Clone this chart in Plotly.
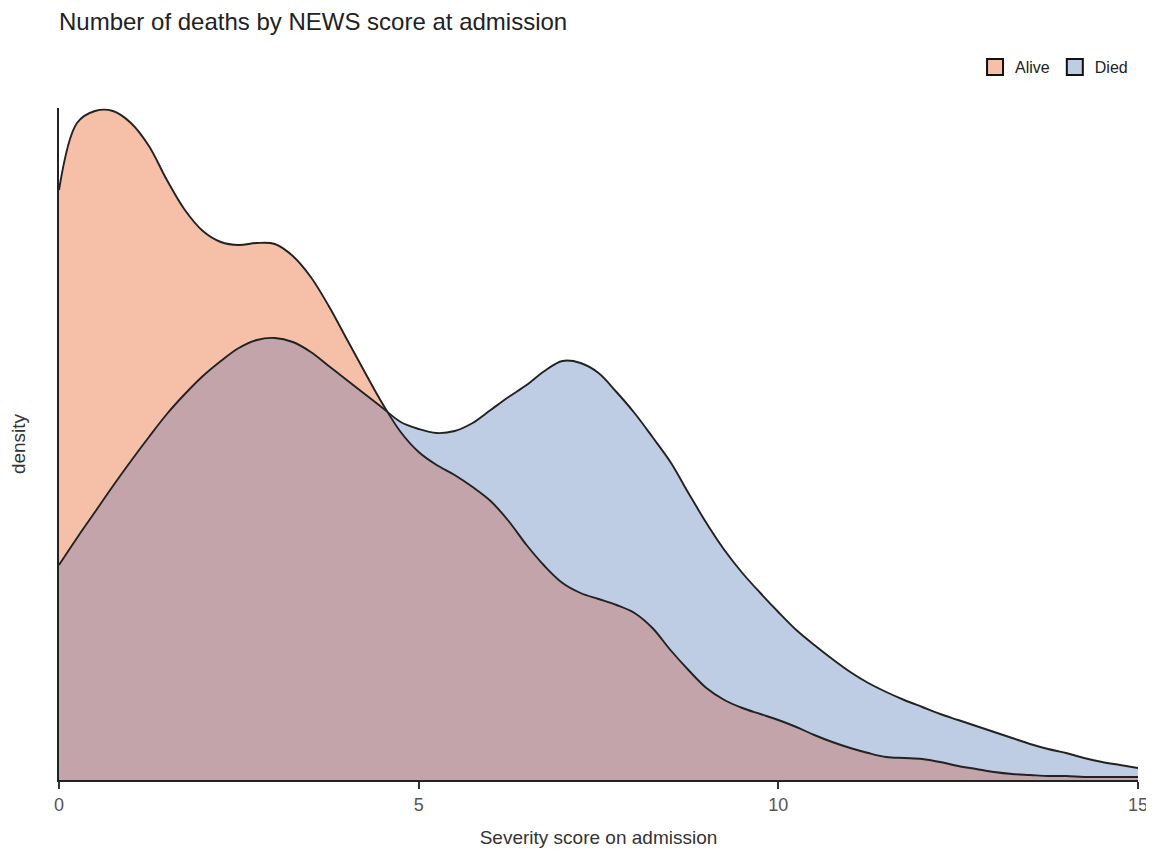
import plotly.graph_objects as go

# 入院严重程度评分 -> 密度估计（从图上读取，步长 0.25）
score = [0, 0.25, 0.5, 0.75, 1.0, 1.25, 1.5, 1.75, 2.0, 2.25, 2.5, 2.75,
         3.0, 3.25, 3.5, 3.75, 4.0, 4.25, 4.5, 4.75, 5.0, 5.25, 5.5, 5.75,
         6.0, 6.25, 6.5, 6.75, 7.0, 7.25, 7.5, 7.75, 8.0, 8.25, 8.5, 8.75,
         9.0, 9.25, 9.5, 9.75, 10.0, 10.25, 10.5, 10.75, 11.0, 11.25, 11.5,
         11.75, 12.0, 12.25, 12.5, 12.75, 13.0, 13.25, 13.5, 13.75, 14.0,
         14.25, 14.5, 14.75, 15.0]

alive = [0.177, 0.1971, 0.2007, 0.2007, 0.1971, 0.1902, 0.18, 0.171, 0.1647,
         0.1614, 0.1605, 0.1611, 0.1608, 0.1572, 0.1509, 0.1422, 0.1323,
         0.1224, 0.1128, 0.1044, 0.0984, 0.0945, 0.0915, 0.0879, 0.0837,
         0.0777, 0.0705, 0.0642, 0.0591, 0.0561, 0.0543, 0.0525, 0.0501,
         0.0456, 0.039, 0.033, 0.0276, 0.024, 0.0216, 0.0198, 0.018, 0.0159,
         0.0135, 0.0114, 0.0096, 0.0081, 0.0069, 0.0066, 0.0063, 0.0054,
         0.0042, 0.0033, 0.0024, 0.0018, 0.0015, 0.0012, 0.0012, 0.0009,
         0.0009, 0.0009, 0.0009]

died = [0.0645, 0.0726, 0.0804, 0.0882, 0.0957, 0.1029, 0.1098, 0.1158,
        0.1212, 0.1257, 0.1296, 0.132, 0.1326, 0.1314, 0.1284, 0.1242, 0.12,
        0.1158, 0.1116, 0.1074, 0.1053, 0.1041, 0.1047, 0.1071, 0.111,
        0.1149, 0.1185, 0.1227, 0.1257, 0.1251, 0.1221, 0.1164, 0.1101,
        0.1029, 0.0954, 0.0861, 0.0771, 0.069, 0.0621, 0.0561, 0.0504, 0.045,
        0.0405, 0.0363, 0.0324, 0.0291, 0.0264, 0.024, 0.0219, 0.0198, 0.018,
        0.0162, 0.0144, 0.0126, 0.0108, 0.0093, 0.0081, 0.0066, 0.0054,
        0.0045, 0.0036]

groups = ["Alive", "Died"]
fill_colors = {"Alive": "#f6bfa7", "Died": "#becce4"}
overlap_color = "#c3a4aa"
line_color = "#222222"
font_family = "Liberation Sans, Arial, Helvetica, sans-serif"
smooth = 1.0

# 两组重叠区域（取较小值）
overlap = [min(a, d) for a, d in zip(alive, died)]

fig = go.Figure()

# 填充区域
for name, vals in zip(groups, [alive, died]):
    fig.add_trace(go.Scatter(
        x=score, y=vals, mode="lines", fill="tozeroy",
        fillcolor=fill_colors[name],
        line=dict(width=0, shape="spline", smoothing=smooth),
        showlegend=False, hoverinfo="skip",
    ))

fig.add_trace(go.Scatter(
    x=score, y=overlap, mode="lines", fill="tozeroy",
    fillcolor=overlap_color,
    line=dict(width=0, shape="spline", smoothing=smooth),
    showlegend=False, hoverinfo="skip",
))

# 轮廓线放在最上层
for name, vals in zip(groups, [alive, died]):
    fig.add_trace(go.Scatter(
        x=score, y=vals, mode="lines", name=name,
        line=dict(color=line_color, width=1.9, shape="spline",
                  smoothing=smooth),
        showlegend=False,
    ))

# 图例用方块
for name in groups:
    fig.add_trace(go.Scatter(
        x=[None], y=[None], mode="markers", name=name,
        marker=dict(symbol="square", size=19, color=fill_colors[name],
                    line=dict(color="#111111", width=2)),
    ))

# 页面 body 默认有 8px 边距，尺寸相应缩小
fig.update_layout(
    width=1146, height=840,
    paper_bgcolor="white", plot_bgcolor="white",
    font=dict(family=font_family, size=18, color="#333333"),
    margin=dict(l=51, r=16, t=100, b=68),
    title=dict(
        text="Number of deaths by NEWS score at admission",
        x=0, xref="paper", xanchor="left",
        y=1 - 14 / 840, yanchor="middle",
        font=dict(size=24, color="#222222"),
    ),
    legend=dict(
        orientation="h", x=0.9954, xanchor="right",
        yref="container", y=1 - 59 / 840, yanchor="middle",
        font=dict(size=16, color="#222222"), itemwidth=30,
        itemsizing="trace", bgcolor="rgba(0,0,0,0)",
    ),
    xaxis=dict(
        range=[0, 15], tickvals=[0, 5, 10, 15],
        showgrid=False, zeroline=False, automargin=False,
        ticklabeloverflow="allow",
        showline=True, linecolor="#222222", linewidth=2,
        ticks="outside", ticklen=7, tickwidth=2, tickcolor="#333333",
        tickfont=dict(size=18, color="#555555"),
        title=dict(text="Severity score on admission", standoff=23,
                   font=dict(size=19, color="#333333")),
    ),
    yaxis=dict(
        range=[0, 0.2016], automargin=False,
        showgrid=False, zeroline=False, showticklabels=False,
        showline=True, linecolor="#222222", linewidth=2,
        title=dict(text="density", standoff=30,
                   font=dict(size=19, color="#333333")),
    ),
)

fig.write_html("out.html")
